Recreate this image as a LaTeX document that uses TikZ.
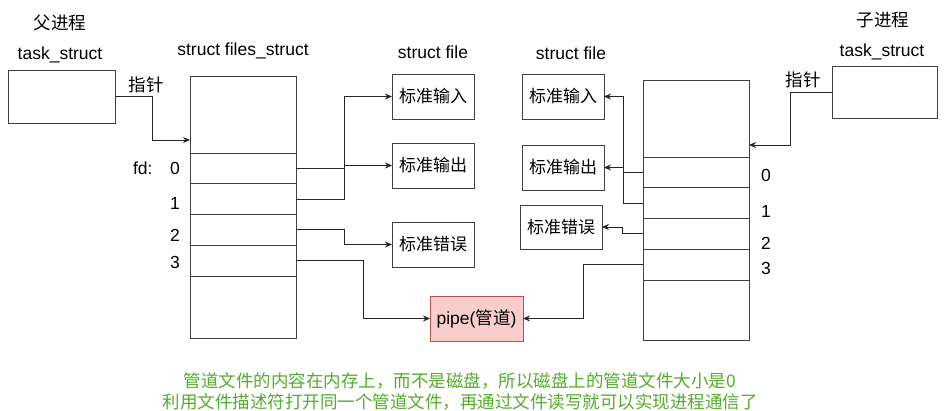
\documentclass[tikz,border=0pt]{standalone}
\usepackage{fontspec}
\setmainfont{Liberation Sans}
\newfontfamily\cjk{Noto Sans CJK SC}
\usetikzlibrary{arrows.meta}
\definecolor{pipefill}{HTML}{F8CECC}
\definecolor{pipeline}{HTML}{B85450}
\definecolor{notegreen}{HTML}{52AD2A}

\begin{document}
\begin{tikzpicture}[x=1pt,y=-1pt,
            font=\fontsize{17.5}{20}\selectfont,
            box/.style={draw=black!75,line width=0.9pt,inner sep=0,outer sep=0,anchor=north west},
            task box/.style={box,minimum width=107pt,minimum height=53pt},
            table box/.style={box,minimum width=106pt,minimum height=262pt},
            cell/.style={box,minimum width=106pt,minimum height=30.75pt},
            file box/.style={box,minimum width=82pt,minimum height=45pt,font=\fontsize{17}{20}\selectfont\cjk},
            txt/.style={inner sep=0},
            link/.style={draw=black!85,line width=0.8pt,-{Stealth[length=7pt,width=6pt]}}]
            \useasboundingbox (0,0) rectangle (948,411);
            %==================
            \node[txt] (parent) at (60,23) {\cjk 父进程};
            \node[txt] (taskLname) at (60,55) {task\_struct};
            \node[task box] (taskL) at (8,70) {};
            \node[txt] (ptrL) at (146,85) {\cjk 指针};
            %==================
            \node[txt] (fsLname) at (243,51) {struct files\_struct};
            \node[table box] (fsL) at (190,76) {};
            \foreach \i in {0,...,3}{
            \node[cell] (l\i) at (190,153+30.75*\i) {};
            }
            \node[txt,anchor=east] (fdL0) at (180,168) {fd:\quad 0};
            \node[txt,anchor=east] (fdL1) at (180,203) {1};
            \node[txt,anchor=east] (fdL2) at (180,235) {2};
            \node[txt,anchor=east] (fdL3) at (180,262) {3};
            %==================
            \node[txt] (fileLname) at (433,52) {struct file};
            \node[file box] (inL) at (392,74) {标准输入};
            \node[file box] (outL) at (392,143) {标准输出};
            \node[file box] (errL) at (392,222) {标准错误};
            %==================
            \node[box,fill=pipefill,draw=pipeline,minimum width=93pt,minimum height=45pt] (pipe) at (430,296) {pipe({\cjk 管道})};
            %==================
            \node[txt] (fileRname) at (571,53) {struct file};
            \node[file box] (inR) at (522,74) {标准输入};
            \node[file box] (outR) at (522,145) {标准输出};
            \node[file box,minimum height=44pt] (errR) at (520,205) {标准错误};
            %==================
            \node[table box,minimum height=260pt] (fsR) at (643,80) {};
            \foreach \i in {0,...,3}{
            \node[cell] (r\i) at (643,157+30.75*\i) {};
            }
            \node[txt,anchor=west] (fdR0) at (761,175) {0};
            \node[txt,anchor=west] (fdR1) at (761,211) {1};
            \node[txt,anchor=west] (fdR2) at (761,243) {2};
            \node[txt,anchor=west] (fdR3) at (761,268) {3};
            %==================
            \node[txt] (child) at (883,20) {\cjk 子进程};
            \node[txt] (taskRname) at (882,52) {task\_struct};
            \node[task box,minimum width=105pt,minimum height=52pt] (taskR) at (832,66) {};
            \node[txt] (ptrR) at (803,80) {\cjk 指针};
            % ===================
            \draw[link] (taskL.east) -- ++(37,0) |- ([yshift=67pt]fsL.west);
            \draw[link] (l0.east) -- ++(48,0) |- (inL.west);
            \draw[link] (l1.east) -- ++(48,0) |- (outL.west);
            \draw[link] (l2.east) -- ++(48,0) |- (errL.west);
            \draw[link] (l3.east) -- ++(67,0) |- (pipe.west);
            % ===================
            \draw[link] (taskR.west) -- ++(-42,0) |- ([yshift=65pt]fsR.east);
            \draw[link] (r1.west) -- ++(-20,0) |- (inR.east);
            \draw[link] (r0.west) -- ++(-20,0) |- (outR.east);
            \draw[link] (r2.west) -- ++(-21,0) |- (errR.east);
            \draw[link] (r3.west) -- ++(-60,0) |- (pipe.east);
            % ===================
            \node[txt,text=notegreen] (note1) at (460,381) {\cjk 管道文件的内容在内存上，而不是磁盘，所以磁盘上的管道文件大小是0};
            \node[txt,text=notegreen] (note2) at (460,402) {\cjk 利用文件描述符打开同一个管道文件，再通过文件读写就可以实现进程通信了};
        \end{tikzpicture}
\end{document}
